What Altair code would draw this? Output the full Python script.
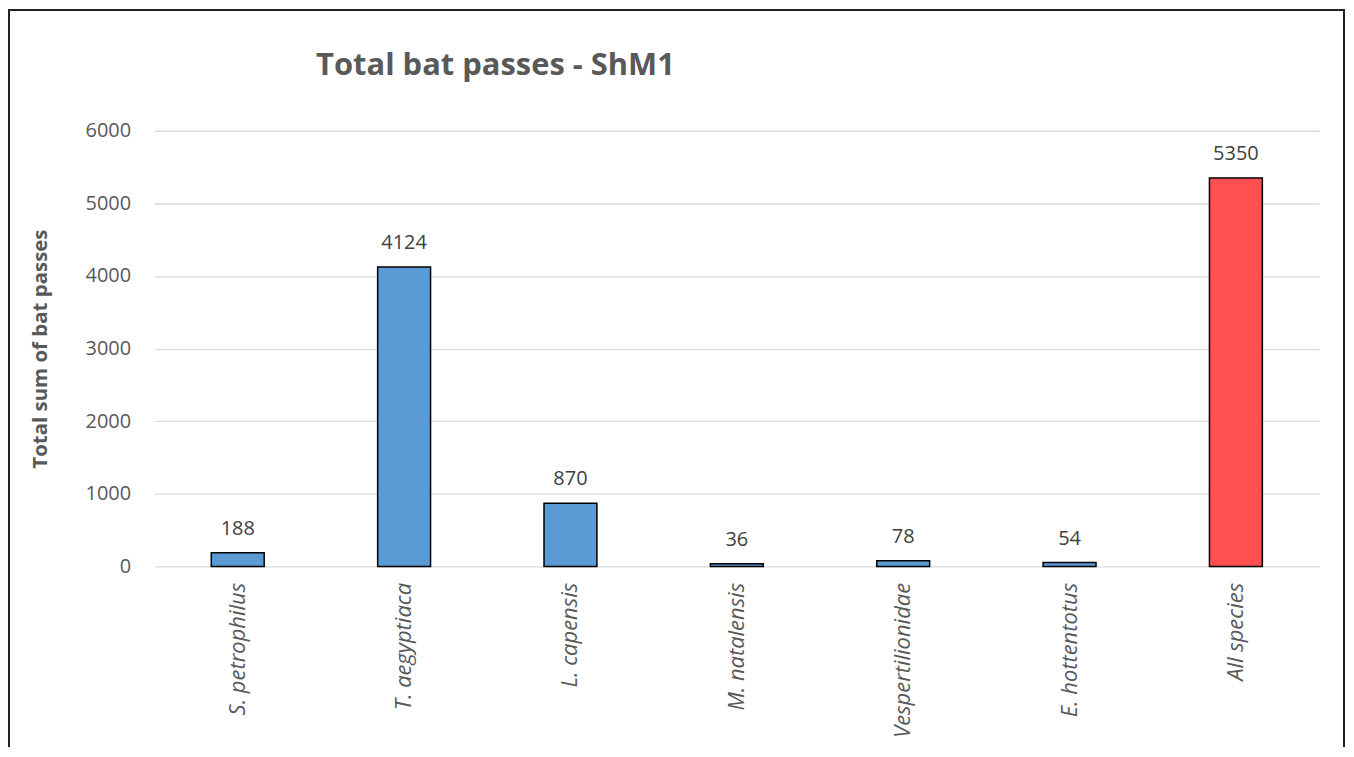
import altair as alt
import pandas as pd

species = ["S. petrophilus", "T. aegyptiaca", "L. capensis", "M. natalensis",
           "Vespertilionidae", "E. hottentotus", "All species"]
passes = [188, 4124, 870, 36, 78, 54, 5350]
groups = ["species", "species", "species", "species", "species", "species", "all"]
group_domain = ["species", "all"]
group_colors = ["#5B9BD5", "#FF5050"]
y_ticks = [0, 1000, 2000, 3000, 4000, 5000, 6000]
title_text = ["Total bat passes - ShM1"]

df = pd.DataFrame({"species": species, "passes": passes, "group": groups})

FONT = "Open Sans"
GREY = "#595959"

base = alt.Chart(df).encode(
    x=alt.X("species:N", sort=species,
            scale=alt.Scale(paddingInner=0.682, paddingOuter=0.341),
            axis=alt.Axis(title=None, labelAngle=-90, labelFontStyle="italic",
                          labelFont=FONT, labelFontSize=22, labelColor=GREY,
                          labelPadding=16, ticks=False, domain=False)),
    y=alt.Y("passes:Q", scale=alt.Scale(domain=[0, 6000], nice=False),
            axis=alt.Axis(values=y_ticks, format="d", title="Total sum of bat passes",
                          grid=True, gridColor="#D9D9D9", gridWidth=1.3,
                          domain=False, ticks=False, labelPadding=24,
                          labelFont=FONT, labelFontSize=20, labelColor=GREY,
                          titleFont=FONT, titleFontSize=20.5, titleFontWeight="bold",
                          titleColor=GREY, titleX=-114, titleY=218.5,
                          titleAlign="center", titleBaseline="middle")),
)

bars = base.mark_bar(stroke="black", strokeWidth=1.5).encode(
    color=alt.Color("group:N", scale=alt.Scale(domain=group_domain, range=group_colors),
                    legend=None)
)

labels = base.mark_text(dy=-18, baseline="alphabetic", font=FONT, fontSize=20,
                        color="#404040").encode(text=alt.Text("passes:Q"))

title = alt.Chart(pd.DataFrame({"t": title_text})).mark_text(
    align="left", baseline="alphabetic", font=FONT, fontSize=31,
    fontWeight="bold", color=GREY
).encode(text="t:N", x=alt.value(162), y=alt.value(-56))

frame = alt.Chart(alt.Data(values=[{}])).mark_rect(
    fill="transparent", stroke="#222222", strokeWidth=2
).encode(x=alt.value(-146), x2=alt.value(1193), y=alt.value(-121), y2=alt.value(700))

chart = alt.layer(frame, bars, labels, title).properties(
    width=1168, height=437,
    padding={"left": 147, "top": 122, "right": 27, "bottom": 180},
    autosize=alt.AutoSizeParams(type="none"),
    background="white",
).configure_view(stroke=None)

chart.save("out.html", embed_options={"renderer": "svg", "actions": False})
